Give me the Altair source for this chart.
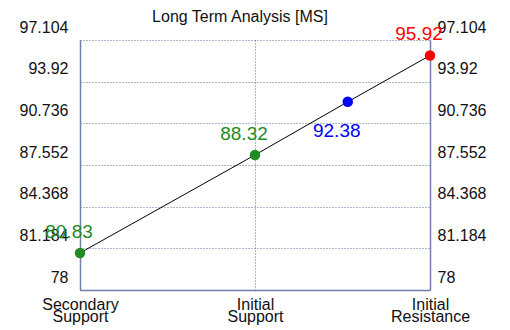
import altair as alt
import pandas as pd

# ---- data ----
names = ["Secondary Support", "Initial Support", "Current", "Initial Resistance"]
xpos = [0, 1, 1.53, 2]
values = [80.83, 88.32, 92.38, 95.92]
colors = ["#228B22", "#228B22", "#0000FF", "#FF0000"]
label_pos = ["above", "above", "below", "above"]
y_ticks = [78, 81.184, 84.368, 87.552, 90.736, 93.92, 97.104]
x_ticks = [0, 1, 2]
x_tick_labels = [["Secondary", "Support"], ["Initial", "Support"], ["Initial", "Resistance"]]
title = "Long Term Analysis [MS]"

df = pd.DataFrame({"name": names, "x": xpos, "v": values, "c": colors, "pos": label_pos})

FONT = "Liberation Sans"
AXC = "#6f80a3"
GRIDC = "#5b6d98"

# build label expression for x axis from lists
def arr(a):
    return "[" + ",".join("'" + s + "'" for s in a) + "]"
expr = arr(x_tick_labels[-1])
for t, lab in reversed(list(zip(x_ticks[:-1], x_tick_labels[:-1]))):
    expr = f"datum.value == {t} ? {arr(lab)} : ({expr})"

xscale = alt.Scale(domain=[0, 2], nice=False, zero=False)
yscale = alt.Scale(domain=[78, 97.104], nice=False, zero=False)

x_axis = alt.Axis(values=x_ticks, labelExpr=expr, title=None, grid=True,
                  gridColor=GRIDC, gridDash=[1, 2], gridWidth=1,
                  domainColor=AXC, domainWidth=1.5, ticks=False,
                  labelFontSize=16, labelLineHeight=12.5, labelPadding=6,
                  labelFlush=False, labelAlign="center",
                  labelColor="#111111", labelFont=FONT, labelBaseline="top")

y_left = alt.Axis(orient="left", values=y_ticks, format=".5~g", title=None, grid=True,
                  gridColor=GRIDC, gridDash=[1, 2], gridWidth=1,
                  domainColor=AXC, domainWidth=1.5, ticks=False,
                  labelFontSize=16, labelPadding=12, labelOffset=-13, labelFlush=False,
                  labelColor="#111111", labelFont=FONT)
y_right = alt.Axis(orient="right", values=y_ticks, format=".5~g", title=None, grid=False,
                   domainColor=AXC, domainWidth=1.5, ticks=False,
                   labelFontSize=16, labelPadding=7, labelOffset=-13, labelFlush=False,
                   labelColor="#111111", labelFont=FONT)

base = alt.Chart(df)

line = base.mark_line(color="black", strokeWidth=1).encode(
    x=alt.X("x:Q", scale=xscale, axis=x_axis),
    y=alt.Y("v:Q", scale=yscale, axis=y_left),
    order="x:Q",
)

points = base.mark_point(filled=True, size=110, opacity=1).encode(
    x=alt.X("x:Q", scale=xscale),
    y=alt.Y("v:Q", scale=yscale, axis=y_right),
    color=alt.Color("c:N", scale=None),
)

above = base.transform_filter("datum.pos == 'above'").mark_text(
    fontSize=19, font=FONT, align="center", baseline="alphabetic", dx=-11, dy=-15
).encode(
    x=alt.X("x:Q", scale=xscale),
    y=alt.Y("v:Q", scale=yscale, axis=None),
    text=alt.Text("v:Q", format=".2f"),
    color=alt.Color("c:N", scale=None),
)

below = base.transform_filter("datum.pos == 'below'").mark_text(
    fontSize=19, font=FONT, align="center", baseline="alphabetic", dx=-11, dy=35
).encode(
    x=alt.X("x:Q", scale=xscale),
    y=alt.Y("v:Q", scale=yscale, axis=None),
    text=alt.Text("v:Q", format=".2f"),
    color=alt.Color("c:N", scale=None),
)

chart = alt.layer(line, points, above, below).resolve_axis(y="independent").properties(
    width=350,
    height=250,
    autosize=alt.AutoSizeParams(type="none"),
    padding={"left": 72, "right": 72, "top": 32, "bottom": 40},
    title=alt.TitleParams(title, fontSize=16, fontWeight="normal", font=FONT,
                          color="#111111", anchor="middle", frame="group",
                          dx=-15, offset=-6),
    background="white",
).configure_view(strokeOpacity=0)

chart.save("out.html", embed_options={"renderer": "svg", "actions": False})
